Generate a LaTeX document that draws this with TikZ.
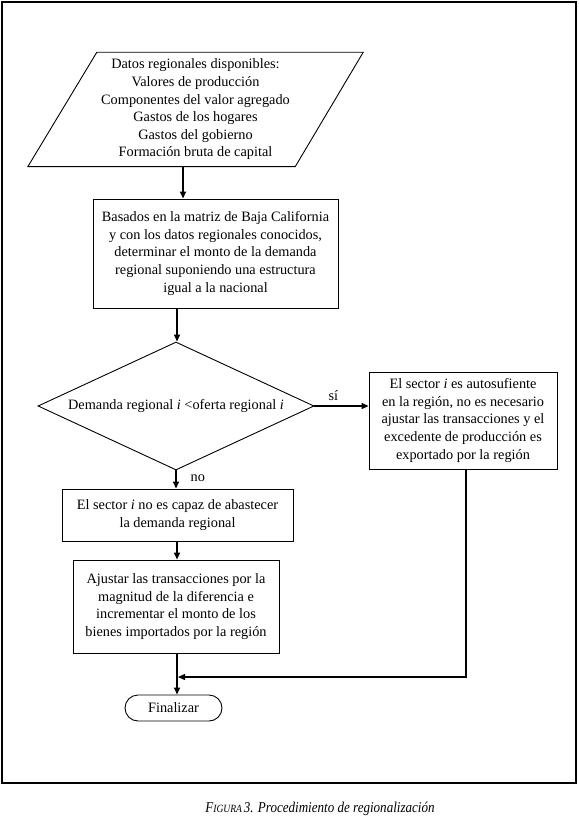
\documentclass[tikz,border=0pt]{standalone}
\usepackage{fontspec}
\setmainfont{Liberation Serif}
\usetikzlibrary{arrows.meta,shapes.geometric,shapes.misc,calc}
\begin{document}
\begin{tikzpicture}[x=1pt,y=-1pt,
  txt/.style={font=\fontsize{14.3}{17.6}\selectfont, align=center, inner sep=0pt},
  boxnode/.style={txt, draw, line width=0.9pt, rectangle},
  arr/.style={line width=1.3pt, -{Triangle[length=7pt,width=6pt]}},
  lbl/.style={font=\fontsize{14.3}{16}\selectfont, inner sep=0pt}
]
\useasboundingbox (0,0) rectangle (578,826);
\draw[line width=1.2pt] (2,2) rectangle (576,783);

% input parallelogram
\node[txt, minimum width=335pt, minimum height=114pt] (para) at (195.5,109.5)
 {Datos regionales disponibles:\\Valores de producción\\Componentes del valor agregado\\Gastos de los hogares\\Gastos del gobierno\\Formación bruta de capital};
\draw[line width=0.9pt] ([xshift=69pt]para.north west) -- (para.north east)
  -- ([xshift=-68pt]para.south east) -- (para.south west) -- cycle;

\node[boxnode, minimum width=245pt, minimum height=109pt] (box1) at (215.5,253.5)
 {Basados en la matriz de Baja California\\y con los datos regionales conocidos,\\determinar el monto de la demanda\\regional suponiendo una estructura\\igual a la nacional};

\node[txt, draw, line width=0.9pt, diamond, aspect=2.15, minimum width=276pt, minimum height=128pt] (dia) at (176,406)
 {Demanda regional \textit{i} <oferta regional \textit{i}};

\node[boxnode, minimum width=188pt, minimum height=97pt] (rbox) at (463,420.5)
 {El sector \textit{i} es autosufiente\\en la región, no es necesario\\ajustar las transacciones y el\\excedente de producción es\\exportado por la región};

\node[boxnode, minimum width=231pt, minimum height=52pt] (box2) at (177.5,515)
 {El sector \textit{i} no es capaz de abastecer\\la demanda regional};

\node[boxnode, minimum width=206pt, minimum height=93pt] (box3) at (176,606.5)
 {Ajustar las transacciones por la\\magnitud de la diferencia e\\incrementar el monto de los\\bienes importados por la región};

\node[txt, draw, line width=0.9pt, rounded rectangle, minimum width=97pt, minimum height=26pt] (fin) at (173.5,708) {Finalizar};

% connectors
\draw[arr] ([xshift=-12.5pt]para.south) -- ([xshift=-12.5pt]para.south |- box1.north);
\draw[arr] ([xshift=-38.5pt]box1.south) -- ([xshift=-38.5pt]box1.south |- dia.north);
\draw[arr] (dia.east) -- (dia.east -| rbox.west) node[lbl, pos=0.35, above=5pt] {sí};
\draw[arr] (dia.south) -- (dia.south |- box2.north) node[lbl, pos=0.45, right=14pt] {no};
\draw[arr] ([xshift=-0.5pt]box2.south) -- ([xshift=-0.5pt]box2.south |- box3.north);
\draw[arr] ([xshift=1pt]box3.south) -- ([xshift=1pt]box3.south |- fin.north);
\coordinate (merge) at (178,677);
\draw[arr] ([xshift=3pt]rbox.south) |- (merge);
\node[inner sep=0pt, font=\itshape] (cap) at (320,809)
 {\scalebox{0.87}[1]{{\fontsize{15}{15}\selectfont F}{\fontsize{11}{11}\selectfont IGURA}\kern2pt{\fontsize{15}{15}\selectfont 3. Procedimiento de regionalización}}};
\end{tikzpicture}
\end{document}
